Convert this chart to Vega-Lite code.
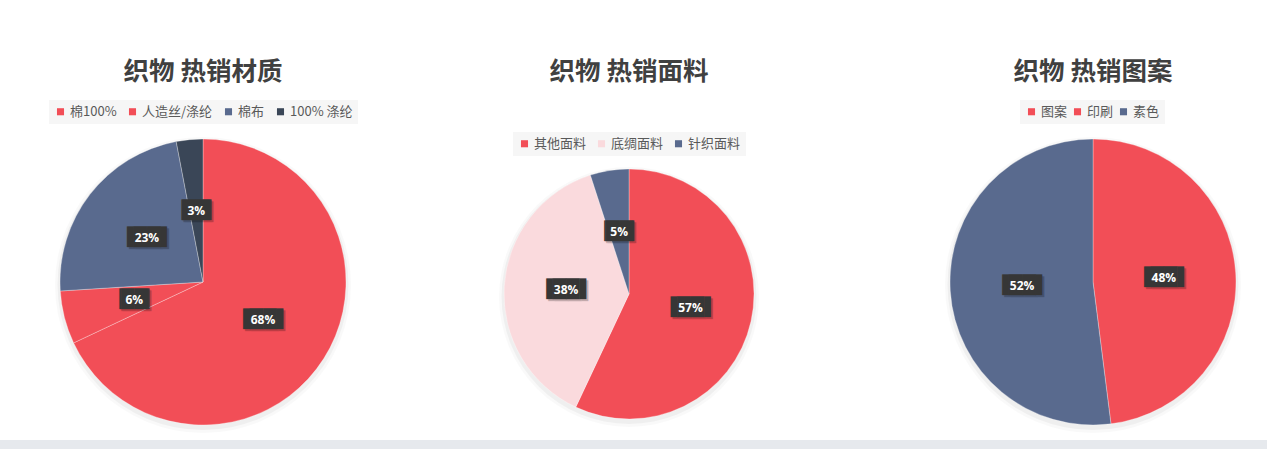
{
  "$schema": "https://vega.github.io/schema/vega-lite/v6.json",
  "background": "white",
  "padding": {"left": 0, "top": 59, "right": 0, "bottom": 0},
  "config": {
    "view": {"stroke": null},
    "title": {
      "font": "Noto Sans CJK SC",
      "fontSize": 25.5,
      "fontWeight": "bold",
      "color": "#404040",
      "anchor": "middle",
      "frame": "group"
    },
    "legend": {
      "direction": "horizontal",
      "symbolType": "square",
      "symbolSize": 50,
      "symbolStrokeWidth": 0,
      "labelFont": "Noto Sans CJK SC",
      "labelFontSize": 13,
      "labelColor": "#595959",
      "labelOffset": 3,
      "padding": 5,
      "fillColor": "#f6f6f6"
    }
  },
  "resolve": {"scale": {"color": "independent"}, "legend": {"color": "independent"}},
  "spacing": 2,
  "vconcat": [
    {
      "spacing": 0,
      "resolve": {"scale": {"color": "independent"}, "legend": {"color": "independent"}},
      "hconcat": [
        {
          "width": 406,
          "height": 264,
          "title": {"text": "织物 热销材质", "offset": 15},
          "data": {
            "values": [
              {"i": 1, "k": "棉100%", "v": 0.68},
              {"i": 2, "k": "人造丝/涤纶", "v": 0.06},
              {"i": 3, "k": "棉布", "v": 0.23},
              {"i": 4, "k": "100% 涤纶", "v": 0.03}
            ]
          },
          "layer": [
            {
              "transform": [{"filter": "datum.i == 1"}],
              "mark": {"type": "arc", "theta": 0, "theta2": 6.2832, "outerRadius": 148, "yOffset": 3, "color": "#000000", "opacity": 0.025},
              "encoding": {}
            },
            {
              "transform": [{"filter": "datum.i == 1"}],
              "mark": {"type": "arc", "theta": 0, "theta2": 6.2832, "outerRadius": 145.5, "yOffset": 2.5, "color": "#000000", "opacity": 0.04},
              "encoding": {}
            },
            {
              "mark": {"type": "arc", "outerRadius": 143, "stroke": "#ffffff", "strokeWidth": 0.6, "strokeOpacity": 0.5},
              "encoding": {
                "theta": {"field": "v", "type": "quantitative", "stack": true},
                "order": {"field": "i", "type": "quantitative"},
                "color": {
                  "field": "k",
                  "type": "nominal",
                  "sort": ["棉100%", "人造丝/涤纶", "棉布", "100% 涤纶"],
                  "scale": {"domain": ["棉100%", "人造丝/涤纶", "棉布", "100% 涤纶"], "range": ["#f24e57", "#f24e57", "#596a8e", "#3a4657"]},
                  "legend": {"title": null, "orient": "none", "legendX": 49, "legendY": -50, "columnPadding": 9}
                }
              }
            },
            {
              "mark": {"type": "text", "radius": 71, "font": "DejaVu Sans", "fontSize": 17.5, "color": "#000000", "opacity": 0.22, "dx": 2, "dy": 2, "baseline": "middle"},
              "encoding": {
                "theta": {"field": "v", "type": "quantitative", "stack": true},
                "order": {"field": "i", "type": "quantitative"},
                "detail": {"field": "k", "type": "nominal"},
                "text": {"condition": {"test": "datum.v < 0.1", "value": "▕██▏"}, "value": "▐██▌"}
              }
            },
            {
              "mark": {"type": "text", "radius": 71, "font": "DejaVu Sans", "fontSize": 17.5, "color": "#363636", "baseline": "middle"},
              "encoding": {
                "theta": {"field": "v", "type": "quantitative", "stack": true},
                "order": {"field": "i", "type": "quantitative"},
                "detail": {"field": "k", "type": "nominal"},
                "text": {"condition": {"test": "datum.v < 0.1", "value": "▕██▏"}, "value": "▐██▌"}
              }
            },
            {
              "mark": {"type": "text", "radius": 71, "font": "Open Sans", "fontSize": 12, "fontWeight": "bold", "color": "#ffffff", "baseline": "middle"},
              "encoding": {
                "theta": {"field": "v", "type": "quantitative", "stack": true},
                "order": {"field": "i", "type": "quantitative"},
                "detail": {"field": "k", "type": "nominal"},
                "text": {"field": "v", "type": "quantitative", "format": ".0%"}
              }
            }
          ]
        },
        {
          "spacing": 80,
          "resolve": {"scale": {"color": "independent"}, "legend": {"color": "independent"}},
          "hconcat": [
            {
              "width": 446,
              "height": 288,
              "title": {"text": "织物 热销面料", "offset": 47},
              "data": {
                "values": [
                  {"i": 1, "k": "其他面料", "v": 0.57},
                  {"i": 2, "k": "底绸面料", "v": 0.38},
                  {"i": 3, "k": "针织面料", "v": 0.05}
                ]
              },
              "layer": [
                {
                  "transform": [{"filter": "datum.i == 1"}],
                  "mark": {"type": "arc", "theta": 0, "theta2": 6.2832, "outerRadius": 130, "yOffset": 3, "color": "#000000", "opacity": 0.025},
                  "encoding": {}
                },
                {
                  "transform": [{"filter": "datum.i == 1"}],
                  "mark": {"type": "arc", "theta": 0, "theta2": 6.2832, "outerRadius": 127.5, "yOffset": 2.5, "color": "#000000", "opacity": 0.04},
                  "encoding": {}
                },
                {
                  "mark": {"type": "arc", "outerRadius": 125, "stroke": "#ffffff", "strokeWidth": 0.6, "strokeOpacity": 0.5},
                  "encoding": {
                    "theta": {"field": "v", "type": "quantitative", "stack": true},
                    "order": {"field": "i", "type": "quantitative"},
                    "color": {
                      "field": "k",
                      "type": "nominal",
                      "sort": ["其他面料", "底绸面料", "针织面料"],
                      "scale": {"domain": ["其他面料", "底绸面料", "针织面料"], "range": ["#f24e57", "#fadadd", "#596a8e"]},
                      "legend": {"title": null, "orient": "none", "legendX": 107, "legendY": -18, "columnPadding": 8}
                    }
                  }
                },
                {
                  "mark": {"type": "text", "radius": 63, "font": "DejaVu Sans", "fontSize": 17.5, "color": "#000000", "opacity": 0.22, "dx": 2, "dy": 2, "baseline": "middle"},
                  "encoding": {
                    "theta": {"field": "v", "type": "quantitative", "stack": true},
                    "order": {"field": "i", "type": "quantitative"},
                    "detail": {"field": "k", "type": "nominal"},
                    "text": {"condition": {"test": "datum.v < 0.1", "value": "▕██▏"}, "value": "▐██▌"}
                  }
                },
                {
                  "mark": {"type": "text", "radius": 63, "font": "DejaVu Sans", "fontSize": 17.5, "color": "#363636", "baseline": "middle"},
                  "encoding": {
                    "theta": {"field": "v", "type": "quantitative", "stack": true},
                    "order": {"field": "i", "type": "quantitative"},
                    "detail": {"field": "k", "type": "nominal"},
                    "text": {"condition": {"test": "datum.v < 0.1", "value": "▕██▏"}, "value": "▐██▌"}
                  }
                },
                {
                  "mark": {"type": "text", "radius": 63, "font": "Open Sans", "fontSize": 12, "fontWeight": "bold", "color": "#ffffff", "baseline": "middle"},
                  "encoding": {
                    "theta": {"field": "v", "type": "quantitative", "stack": true},
                    "order": {"field": "i", "type": "quantitative"},
                    "detail": {"field": "k", "type": "nominal"},
                    "text": {"field": "v", "type": "quantitative", "format": ".0%"}
                  }
                }
              ]
            },
            {
              "width": 322,
              "height": 264,
              "title": {"text": "织物 热销图案", "offset": 15},
              "data": {
                "values": [
                  {"i": 1, "k": "图案", "v": 0},
                  {"i": 2, "k": "印刷", "v": 0.48},
                  {"i": 3, "k": "素色", "v": 0.52}
                ]
              },
              "layer": [
                {
                  "transform": [{"filter": "datum.i == 1"}],
                  "mark": {"type": "arc", "theta": 0, "theta2": 6.2832, "outerRadius": 148, "yOffset": 3, "color": "#000000", "opacity": 0.025},
                  "encoding": {}
                },
                {
                  "transform": [{"filter": "datum.i == 1"}],
                  "mark": {"type": "arc", "theta": 0, "theta2": 6.2832, "outerRadius": 145.5, "yOffset": 2.5, "color": "#000000", "opacity": 0.04},
                  "encoding": {}
                },
                {
                  "mark": {"type": "arc", "outerRadius": 143, "stroke": "#ffffff", "strokeWidth": 0.6, "strokeOpacity": 0.5},
                  "encoding": {
                    "theta": {"field": "v", "type": "quantitative", "stack": true},
                    "order": {"field": "i", "type": "quantitative"},
                    "color": {
                      "field": "k",
                      "type": "nominal",
                      "sort": ["图案", "印刷", "素色"],
                      "scale": {"domain": ["图案", "印刷", "素色"], "range": ["#f24e57", "#f24e57", "#596a8e"]},
                      "legend": {"title": null, "orient": "none", "legendX": 88, "legendY": -50, "columnPadding": 3}
                    }
                  }
                },
                {
                  "transform": [{"filter": "datum.v > 0"}],
                  "mark": {"type": "text", "radius": 71, "font": "DejaVu Sans", "fontSize": 17.5, "color": "#000000", "opacity": 0.22, "dx": 2, "dy": 2, "baseline": "middle"},
                  "encoding": {
                    "theta": {"field": "v", "type": "quantitative", "stack": true},
                    "order": {"field": "i", "type": "quantitative"},
                    "detail": {"field": "k", "type": "nominal"},
                    "text": {"condition": {"test": "datum.v < 0.1", "value": "▕██▏"}, "value": "▐██▌"}
                  }
                },
                {
                  "transform": [{"filter": "datum.v > 0"}],
                  "mark": {"type": "text", "radius": 71, "font": "DejaVu Sans", "fontSize": 17.5, "color": "#363636", "baseline": "middle"},
                  "encoding": {
                    "theta": {"field": "v", "type": "quantitative", "stack": true},
                    "order": {"field": "i", "type": "quantitative"},
                    "detail": {"field": "k", "type": "nominal"},
                    "text": {"condition": {"test": "datum.v < 0.1", "value": "▕██▏"}, "value": "▐██▌"}
                  }
                },
                {
                  "transform": [{"filter": "datum.v > 0"}],
                  "mark": {"type": "text", "radius": 71, "font": "Open Sans", "fontSize": 12, "fontWeight": "bold", "color": "#ffffff", "baseline": "middle"},
                  "encoding": {
                    "theta": {"field": "v", "type": "quantitative", "stack": true},
                    "order": {"field": "i", "type": "quantitative"},
                    "detail": {"field": "k", "type": "nominal"},
                    "text": {"field": "v", "type": "quantitative", "format": ".0%"}
                  }
                }
              ]
            }
          ]
        }
      ]
    },
    {
      "width": 1267,
      "height": 9,
      "view": {"fill": "#e6e9ed", "stroke": null},
      "data": {"values": []},
      "mark": "point"
    }
  ]
}
